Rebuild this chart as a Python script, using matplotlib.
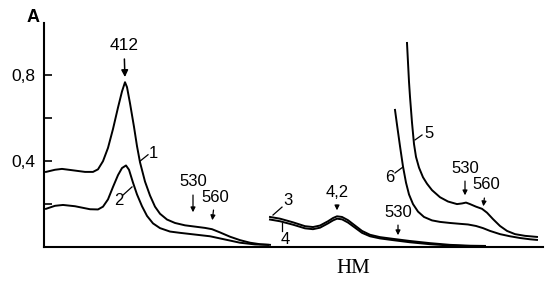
import matplotlib
matplotlib.use("Agg")
import matplotlib.pyplot as plt

plt.rcParams['font.family'] = ['Liberation Sans', 'DejaVu Sans']

# positions along the (unscaled) wavelength axis and absorbance values
x1 = [46, 55, 62, 72, 85, 93, 98, 103, 108, 113, 118, 122, 125, 127, 130, 134, 137, 140, 145, 150,
      155, 160, 167, 175, 185, 195, 205, 212, 220, 230, 240, 250, 260, 270]
a1 = [0.350, 0.360, 0.364, 0.358, 0.350, 0.350, 0.362, 0.400, 0.462, 0.550, 0.650, 0.725, 0.768,
      0.745, 0.670, 0.560, 0.470, 0.395, 0.305, 0.240, 0.188, 0.155, 0.128, 0.112, 0.101, 0.095,
      0.089, 0.083, 0.068, 0.048, 0.032, 0.020, 0.013, 0.010]

x2 = [46, 55, 63, 75, 90, 98, 103, 108, 113, 118, 122, 126, 129, 133, 137, 142, 147, 153, 160, 170,
      180, 195, 210, 225, 240, 255, 268]
a2 = [0.178, 0.192, 0.196, 0.190, 0.176, 0.175, 0.188, 0.222, 0.280, 0.335, 0.368, 0.380, 0.360,
      0.300, 0.245, 0.190, 0.145, 0.110, 0.088, 0.072, 0.066, 0.058, 0.050, 0.035, 0.020, 0.012, 0.010]

x3 = [270, 280, 293, 305, 313, 320, 328, 333, 337, 342, 348, 355, 362, 370, 380, 393, 410, 430, 450, 470, 485]
a3 = [0.140, 0.132, 0.115, 0.097, 0.093, 0.100, 0.120, 0.135, 0.143, 0.140, 0.125, 0.100, 0.075,
      0.057, 0.046, 0.038, 0.028, 0.018, 0.010, 0.006, 0.005]

x4 = [270, 280, 293, 305, 313, 320, 328, 333, 337, 342, 348, 355, 362, 370, 380, 393, 410, 430, 450, 470, 478]
a4 = [0.128, 0.120, 0.104, 0.087, 0.083, 0.090, 0.110, 0.124, 0.132, 0.129, 0.114, 0.090, 0.066,
      0.050, 0.040, 0.032, 0.022, 0.013, 0.007, 0.004, 0.003]

x5 = [407, 408, 409, 410, 412, 414, 416, 419, 423, 427, 432, 440, 448, 457, 462, 466, 470, 476, 482,
      487, 493, 500, 507, 515, 525, 537]
a5 = [0.951, 0.860, 0.770, 0.700, 0.580, 0.480, 0.420, 0.370, 0.325, 0.295, 0.265, 0.232, 0.212,
      0.200, 0.203, 0.207, 0.200, 0.188, 0.178, 0.160, 0.130, 0.098, 0.075, 0.060, 0.052, 0.047]

x6 = [395, 397, 400, 403, 406, 409, 413, 418, 424, 432, 440, 450, 460, 468, 476, 483, 490, 500, 510,
      520, 530, 537]
a6 = [0.639, 0.570, 0.470, 0.375, 0.300, 0.245, 0.200, 0.165, 0.140, 0.124, 0.117, 0.112, 0.108,
      0.105, 0.098, 0.088, 0.075, 0.060, 0.050, 0.042, 0.036, 0.033]

yticks = [0.2, 0.4, 0.6, 0.8]
ytick_labels = ['', '0,4', '', '0,8']

fig = plt.figure(figsize=(5.6, 2.91), dpi=100)
ax = fig.add_axes([44 / 560, 44 / 291, 499 / 560, 224 / 291])

for x, a in [(x1, a1), (x2, a2), (x3, a3), (x4, a4), (x5, a5), (x6, a6)]:
    ax.plot(x, a, color='black', lw=1.4)

ax.set_xlim(44, 543)
ax.set_ylim(0, 1.044)
ax.spines['top'].set_visible(False)
ax.spines['right'].set_visible(False)
ax.spines['left'].set_linewidth(1.5)
ax.spines['bottom'].set_linewidth(1.5)
ax.set_xticks([])
ax.set_yticks(yticks)
ax.set_yticklabels(ytick_labels, fontsize=12.5)
ax.tick_params(axis='y', direction='in', length=6, width=1.2, pad=6)

ax.text(33, 1.07, 'A', fontsize=13, fontweight='bold', ha='center', va='center', clip_on=False)
ax.text(353, -0.1, 'НМ', fontsize=15, family='Liberation Serif', ha='center', va='center')

# peak markers with arrows
big = dict(arrowstyle='-|>', color='black', lw=1.1, mutation_scale=10)
small = dict(arrowstyle='-|>', color='black', lw=0.9, mutation_scale=7)
ax.annotate('412', xy=(125, 0.779), xytext=(124, 0.937), fontsize=12.5, ha='center', va='center',
            arrowprops=big)
marks = [('530', 193, 0.149, 0.303), ('560', 212, 0.112, 0.233),
         ('4,2', 337, 0.158, 0.256), ('530', 398, 0.042, 0.163),
         ('530', 465, 0.228, 0.368), ('560', 483, 0.177, 0.289)]
for t, xm, tip, ty in marks:
    ax.annotate(t, xy=(xm, tip), xytext=(xm + (3 if t == '560' else 0), ty), fontsize=12,
                ha='center', va='center', arrowprops=small)

# curve numbers with leader lines
leaders = [('1', (140, 0.40), (148, 0.43), (153, 0.438)),
           ('2', (132, 0.28), (123, 0.242), (119, 0.219)),
           ('3', (273, 0.149), (282, 0.186), (288, 0.219)),
           ('4', (282, 0.112), (282, 0.075), (285, 0.037)),
           ('5', (415, 0.499), (422, 0.522), (429, 0.527)),
           ('6', (403, 0.373), (395, 0.345), (390, 0.326))]
for t, p0, p1, pt in leaders:
    ax.plot([p0[0], p1[0]], [p0[1], p1[1]], color='black', lw=0.9)
    ax.text(pt[0], pt[1], t, fontsize=12, ha='center', va='center')

fig.savefig('out.png', dpi=100)
